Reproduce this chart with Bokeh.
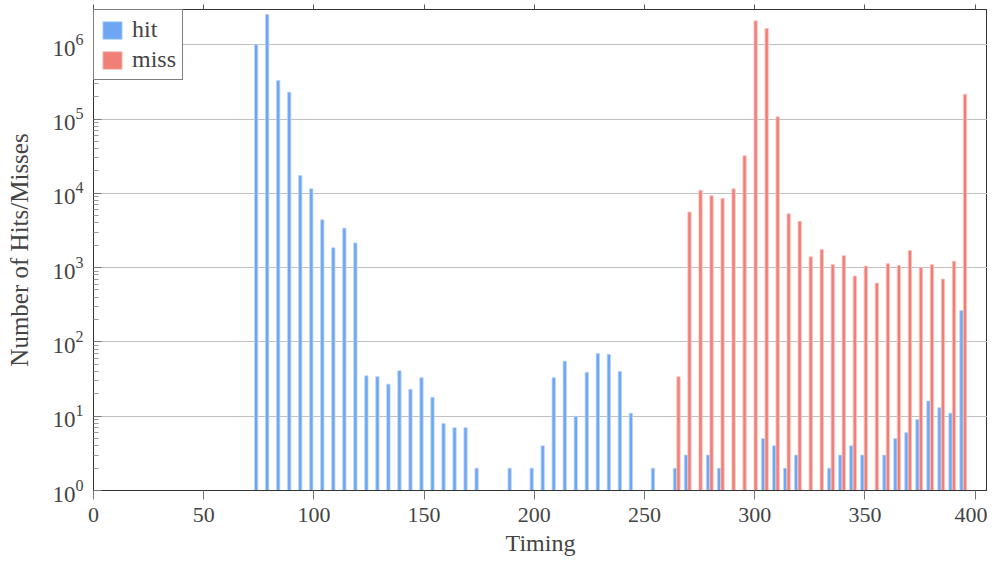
from bokeh.plotting import figure
from bokeh.models import (ColumnDataSource, Range1d, FixedTicker, LinearAxis,
                          LogTickFormatter, Legend, LegendItem, CustomJSTickFormatter)
from bokeh.transform import dodge
from bokeh.embed import file_html
from bokeh.resources import INLINE

# ---- data ----
timing = list(range(75, 400, 5))
hits = [1.0e6, 2.55e6, 3.3e5, 2.3e5, 1.74e4, 1.15e4, 4.4e3, 1.85e3, 3.4e3, 2.15e3,
        35, 34, 27, 41, 23, 33, 18, 8, 7, 7,
        2, 0, 0, 2, 0, 2, 4, 33, 55, 10,
        39, 70, 68, 40, 11, 0, 2, 0, 2, 3,
        0, 3, 2, 0, 0, 0, 5, 4, 2, 3,
        0, 0, 2, 3, 4, 3, 0, 3, 5, 6,
        9, 16, 13, 11, 265]
misses = [0, 0, 0, 0, 0, 0, 0, 0, 0, 0,
          0, 0, 0, 0, 0, 0, 0, 0, 0, 0,
          0, 0, 0, 0, 0, 0, 0, 0, 0, 0,
          0, 0, 0, 0, 0, 0, 0, 0, 34, 5600,
          11000, 9300, 8500, 11500, 32000, 2.1e6, 1.65e6, 1.07e5, 5300, 4200,
          1400, 1750, 1100, 1450, 770, 1050, 620, 1130, 1070, 1700,
          1000, 1100, 700, 1220, 2.15e5]
x_ticks = [0, 50, 100, 150, 200, 250, 300, 350, 400]
y_ticks = [1, 10, 100, 1000, 1e4, 1e5, 1e6]

FONT = "Liberation Serif"
BLUE, BLUE_EDGE = "#6ea6f3", "#b9d4fa"
RED, RED_EDGE = "#f07f78", "#f9c3bf"

hit_src = ColumnDataSource(dict(t=[t for t, v in zip(timing, hits) if v > 0],
                                v=[v for v in hits if v > 0]))
miss_src = ColumnDataSource(dict(t=[t for t, v in zip(timing, misses) if v > 0],
                                 v=[v for v in misses if v > 0]))

p = figure(width=987, height=559, y_axis_type="log",
           x_range=Range1d(0, 405.6), y_range=Range1d(1, 2.98e6),
           output_backend="svg", toolbar_location=None,
           min_border_left=93, min_border_right=0, min_border_top=0, min_border_bottom=69)

p.outline_line_color = "#333333"
p.outline_line_width = 1
p.background_fill_color = "white"

hr = p.vbar(x=dodge("t", -1.2, range=p.x_range), top="v", bottom=1, width=1.5,
            source=hit_src, fill_color=BLUE, line_color=BLUE_EDGE, line_width=0.8)
mr = p.vbar(x=dodge("t", 0.4, range=p.x_range), top="v", bottom=1, width=1.5,
            source=miss_src, fill_color=RED, line_color=RED_EDGE, line_width=0.8)

minor = [m * 10 ** k for k in range(0, 7) for m in range(2, 10)]
yt = FixedTicker(ticks=y_ticks, minor_ticks=minor)
xt = FixedTicker(ticks=x_ticks)

# x axis
xa = p.xaxis[0]
xa.ticker = xt
xa.axis_label = "Timing"
xa.axis_label_text_font = FONT
xa.axis_label_text_font_style = "normal"
xa.axis_label_text_font_size = "24px"
xa.axis_label_standoff = 5
xa.major_label_text_font = FONT
xa.major_label_text_font_size = "22px"
xa.major_label_standoff = 8
xa.major_tick_out = 9
xa.major_tick_in = 0
xa.minor_tick_out = 0
xa.minor_tick_in = 0
xa.axis_line_color = "#333333"
xa.major_tick_line_color = "#777777"

# top axis (ticks only)
ta = LinearAxis(ticker=xt, formatter=CustomJSTickFormatter(code="return ' '"),
                major_label_text_font_size="1px", major_label_standoff=0,
                major_tick_out=5, major_tick_in=0, minor_tick_out=0, minor_tick_in=0,
                axis_line_color="#333333", major_tick_line_color="#555555")
p.add_layout(ta, "above")

# y axis
ya = p.yaxis[0]
ya.ticker = yt
ya.formatter = LogTickFormatter()
ya.axis_label = "Number of Hits/Misses"
ya.axis_label_text_font = FONT
ya.axis_label_text_font_style = "normal"
ya.axis_label_text_font_size = "25px"
ya.axis_label_standoff = 16
ya.major_label_text_font = FONT
ya.major_label_text_font_size = "23px"
ya.major_label_standoff = 10
ya.major_tick_in = 8
ya.major_tick_out = 0
ya.minor_tick_in = 5
ya.minor_tick_out = 0
ya.axis_line_color = "#333333"
ya.major_tick_line_color = "#777777"
ya.minor_tick_line_color = "#999999"

p.xgrid.visible = False
p.ygrid.ticker = yt
p.ygrid.grid_line_color = "#c0c0c0"
p.ygrid.grid_line_width = 1

legend = Legend(items=[LegendItem(label="hit", renderers=[hr]),
                       LegendItem(label="miss", renderers=[mr])],
                location="top_left", margin=0, padding=6, spacing=3,
                label_text_font=FONT, label_text_font_size="24px",
                glyph_width=24, glyph_height=22, label_standoff=8,
                border_line_color="black", border_line_width=1,
                background_fill_color="white", background_fill_alpha=1)
p.add_layout(legend)

open("out.html", "w").write(file_html(p, INLINE))
